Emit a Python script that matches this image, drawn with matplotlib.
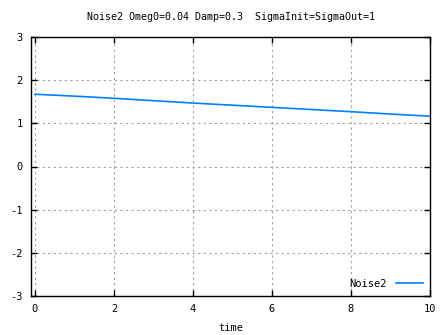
import matplotlib
matplotlib.use("Agg")
import matplotlib.pyplot as plt

# Sampled response of the Noise2 model
time = [0, 1, 2, 3, 4, 5, 6, 7, 8, 9, 10]
noise2 = [1.674, 1.63, 1.58, 1.525, 1.47, 1.42, 1.37, 1.32, 1.27, 1.215, 1.165]

xticks = [0, 2, 4, 6, 8, 10]
yticks = [-3, -2, -1, 0, 1, 2, 3]

plt.rcParams['font.family'] = ['DejaVu Sans Mono']
plt.rcParams['font.size'] = 7.5
plt.rcParams['axes.unicode_minus'] = False

fig = plt.figure(figsize=(4.47, 3.35), dpi=100)
ax = fig.add_axes([31 / 447, 1 - 296 / 335, (430 - 31) / 447, (296 - 37) / 335])

ax.plot(time, noise2, color='#0080ff', lw=1.2, label='Noise2')

ax.set_xlim(-0.1, 10)
ax.set_ylim(-3, 3)
ax.set_xticks(xticks)
ax.set_yticks(yticks)

ax.grid(True, color='#a0a0a0', linestyle=(0, (2, 3)), lw=0.8)
ax.tick_params(direction='in', length=4, width=1, top=True, right=True,
               labelsize=7.5, pad=6, colors='black')
for s in ax.spines.values():
    s.set_linewidth(1.0)

ax.set_title('Noise2 Omeg0=0.04 Damp=0.3  SigmaInit=SigmaOut=1', fontsize=7.2, pad=12)
ax.set_xlabel('time', fontsize=7.5, labelpad=6)

leg = ax.legend(loc='lower right', frameon=False, handlelength=2.6, fontsize=7.5,
                markerfirst=False, borderaxespad=0.3, handletextpad=0.9)

fig.savefig('out.png', dpi=100)
